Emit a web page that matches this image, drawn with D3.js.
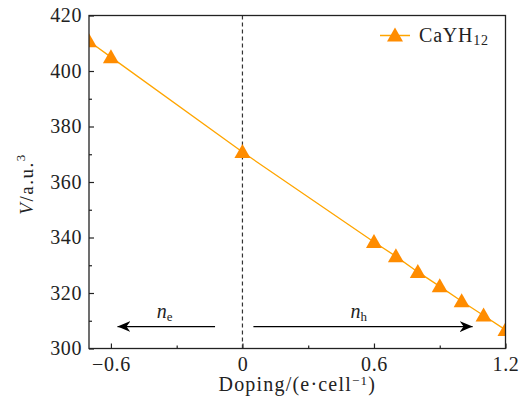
<!DOCTYPE html>
<html>
<head>
<meta charset="utf-8">
<script src="https://cdn.jsdelivr.net/npm/d3@7"></script>
<style>
  html, body { margin: 0; padding: 0; background: #fff; }
  svg text { font-family: "Liberation Serif", "Times New Roman", serif; fill: #222; }
</style>
</head>
<body>
<div id="chart"></div>
<script>
// doping level (e per cell) and cell volume (a.u.^3)
const DOPING = [-0.7, -0.6, 0, 0.6, 0.7, 0.8, 0.9, 1.0, 1.1, 1.2];
const VOLUME = [410.7, 405.0, 370.8, 338.4, 333.2, 327.6, 322.4, 317.0, 311.9, 306.7];

const X_MAJOR = [-0.6, 0, 0.6, 1.2];
const X_MINOR = [-0.3, 0.3, 0.9];
const Y_MAJOR = [300, 320, 340, 360, 380, 400, 420];
const Y_MINOR = [310, 330, 350, 370, 390, 410];

// carrier arrows: [from, to] in doping units, drawn at V = 308
const NE_ARROW = [-0.125, -0.57];
const NH_ARROW = [0.05, 1.05];
const ARROW_V = 307.9;

const W = 526, H = 403;
const MARGIN = { top: 15.5, right: 20.5, bottom: 54.5, left: 89 };
const innerW = W - MARGIN.left - MARGIN.right;
const innerH = H - MARGIN.top - MARGIN.bottom;

const FONT = '"Liberation Serif", "Times New Roman", serif';
const LINE_COL = '#ffa500';
const MARK_COL = '#ff8c00';
const AXIS_COL = '#222';

const svg = d3.select('#chart').append('svg')
  .attr('width', W)
  .attr('height', H);

const g = svg.append('g')
  .attr('transform', `translate(${MARGIN.left},${MARGIN.top})`);

const x = d3.scaleLinear().domain([-0.7, 1.2]).range([0, innerW]);
const y = d3.scaleLinear().domain([300, 420]).range([innerH, 0]);

g.append('clipPath').attr('id', 'plot-clip')
  .append('rect').attr('width', innerW).attr('height', innerH);

// Axes (ticks point inward)
const fmtX = d => d === 0 ? '0' : d3.format('.1f')(d);

const xAxis = g.append('g')
  .attr('transform', `translate(0,${innerH})`)
  .call(d3.axisBottom(x).tickValues(X_MAJOR).tickFormat(fmtX)
    .tickSizeInner(-5).tickSizeOuter(0).tickPadding(8));
xAxis.append('g')
  .call(d3.axisBottom(x).tickValues(X_MINOR).tickFormat('')
    .tickSizeInner(-3).tickSizeOuter(0));

const yAxis = g.append('g')
  .call(d3.axisLeft(y).tickValues(Y_MAJOR).tickFormat(d3.format('d'))
    .tickSizeInner(-5).tickSizeOuter(0).tickPadding(7));
yAxis.append('g')
  .call(d3.axisLeft(y).tickValues(Y_MINOR).tickFormat('')
    .tickSizeInner(-3).tickSizeOuter(0));

g.selectAll('.domain').remove();
g.selectAll('.tick line').attr('stroke', AXIS_COL).attr('stroke-width', 1.2);
xAxis.attr('font-family', FONT);
yAxis.attr('font-family', FONT);
g.selectAll('.tick text')
  .style('font-size', '20px')
  .style('letter-spacing', '0.6px')
  .attr('fill', '#222');

// Zero-doping reference line
g.append('line')
  .attr('x1', x(0)).attr('x2', x(0))
  .attr('y1', 0).attr('y2', innerH)
  .attr('stroke', '#333')
  .attr('stroke-width', 1.2)
  .attr('stroke-dasharray', '4,3');

// Data line and markers
const pts = DOPING.map((d, i) => ({ d, v: VOLUME[i] }));
const plot = g.append('g').attr('clip-path', 'url(#plot-clip)');

plot.append('path')
  .datum(pts)
  .attr('d', d3.line().x(p => x(p.d)).y(p => y(p.v)))
  .attr('fill', 'none')
  .attr('stroke', LINE_COL)
  .attr('stroke-width', 1.3);

const tri = 'M0,-8.5 L8,5.5 L-8,5.5 Z';
plot.selectAll('path.mark')
  .data(pts)
  .join('path')
  .attr('class', 'mark')
  .attr('d', tri)
  .attr('transform', p => `translate(${x(p.d)},${y(p.v) + 0.5})`)
  .attr('fill', MARK_COL);

// Arrowheads
svg.append('defs').append('marker')
  .attr('id', 'head')
  .attr('markerUnits', 'userSpaceOnUse')
  .attr('viewBox', '-13 -6 14 12')
  .attr('refX', 0).attr('refY', 0)
  .attr('markerWidth', 14).attr('markerHeight', 12)
  .attr('orient', 'auto')
  .append('path')
  .attr('d', 'M0,0 L-13,-5.5 L-9,0 L-13,5.5 Z')
  .attr('fill', '#000');

for (const a of [NE_ARROW, NH_ARROW]) {
  g.append('line')
    .attr('x1', x(a[0])).attr('x2', x(a[1]))
    .attr('y1', y(ARROW_V)).attr('y2', y(ARROW_V))
    .attr('stroke', '#000')
    .attr('stroke-width', 1.3)
    .attr('marker-end', 'url(#head)');
}

function carrierLabel(cx, sub) {
  const t = g.append('text')
    .attr('x', cx)
    .attr('y', y(ARROW_V) - 9)
    .attr('text-anchor', 'middle')
    .style('font-size', '20px');
  t.append('tspan').style('font-style', 'italic').text('n');
  t.append('tspan').attr('dy', 3).style('font-size', '13px').text(sub);
}
carrierLabel(x(-0.355), 'e');
carrierLabel(x(0.53), 'h');

// Legend
const leg = g.append('g').attr('transform', `translate(${380 - MARGIN.left},${35.5 - MARGIN.top})`);
leg.append('line').attr('x1', 0).attr('x2', 30)
  .attr('stroke', LINE_COL).attr('stroke-width', 1.5);
leg.append('path').attr('d', tri).attr('transform', 'translate(15,0.5)').attr('fill', MARK_COL);
const legText = leg.append('text').attr('x', 39).attr('y', 6)
  .style('font-size', '20px').style('letter-spacing', '0.8px');
legText.append('tspan').text('CaYH');
legText.append('tspan').attr('dy', 3).style('font-size', '14px').text('12');

// Frame
g.append('rect')
  .attr('width', innerW).attr('height', innerH)
  .attr('fill', 'none')
  .attr('stroke', AXIS_COL)
  .attr('stroke-width', 1.3);

// Axis titles
const xTitle = svg.append('text')
  .attr('x', MARGIN.left + innerW / 2)
  .attr('y', 391)
  .attr('text-anchor', 'middle')
  .style('font-size', '20px')
  .style('letter-spacing', '1.2px');
xTitle.append('tspan').text('Doping/(e·cell');
xTitle.append('tspan').attr('dy', -6).style('font-size', '13px').text('−1');
xTitle.append('tspan').attr('dy', 6).text(')');

const yTitle = svg.append('text')
  .attr('transform', `translate(33,${MARGIN.top + innerH / 2 + 2}) rotate(-90)`)
  .attr('text-anchor', 'middle')
  .style('font-size', '19px')
  .style('letter-spacing', '1.5px');
yTitle.append('tspan').style('font-style', 'italic').text('V');
yTitle.append('tspan').text('/a.u.');
yTitle.append('tspan').attr('dy', -8).style('font-size', '13px').text('3');
</script>
</body>
</html>
